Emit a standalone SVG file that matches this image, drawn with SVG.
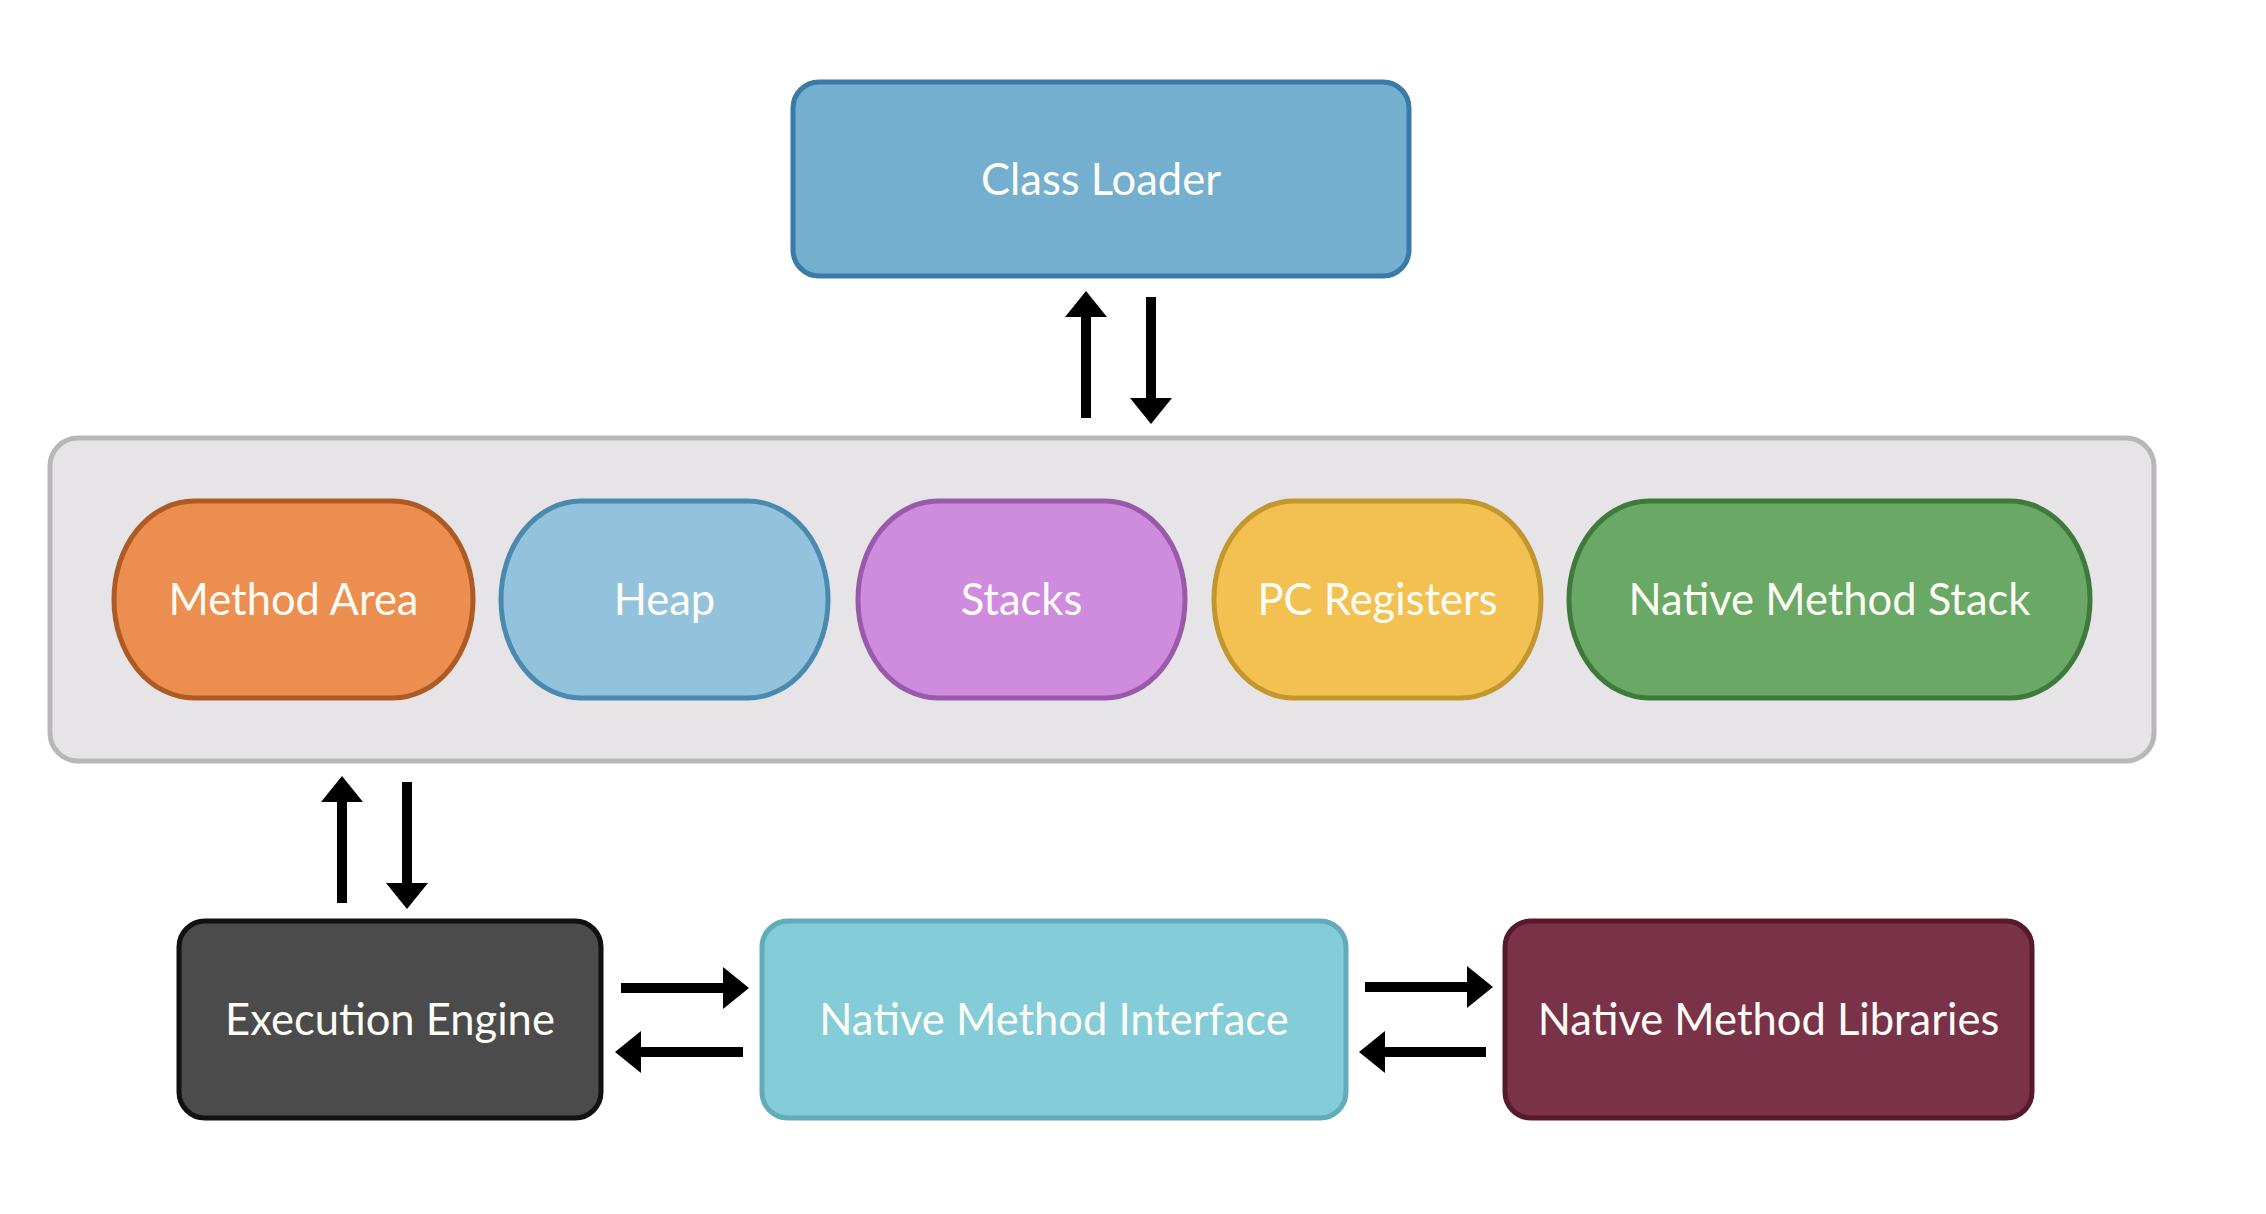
<svg xmlns="http://www.w3.org/2000/svg" width="2266" height="1214" viewBox="0 0 2266 1214">
  <style>
    .lbl { font-family: Lato, "Liberation Sans", sans-serif; font-size: 43.5px; fill: #fcfcf4; text-anchor: middle; }
    .box { stroke-width: 5; }
    .conn { stroke: #000; stroke-width: 10; fill: none; }
  </style>
  <defs>
    <marker id="ah" markerWidth="26" markerHeight="42" refX="0" refY="21" orient="auto" markerUnits="userSpaceOnUse" viewBox="0 0 26 42">
      <path d="M0,0 L26,21 L0,42 Z" fill="#000"/>
    </marker>
  </defs>
  <rect width="2266" height="1214" fill="#ffffff"/>

  <g id="class-loader">
    <rect class="box" x="793" y="82" width="616" height="194" rx="26" fill="#74afd0" stroke="#3a7aa6"/>
    <text class="lbl" x="1101" y="195">Class Loader</text>
  </g>

  <g id="runtime-data-area">
    <rect x="50" y="438" width="2104" height="323" rx="28" fill="#e6e4e7" stroke="#b7b7b9" stroke-width="5"/>
  </g>

  <g id="method-area">
    <rect class="box" x="114" y="501" width="359" height="197" rx="80" ry="98" fill="#ec8e50" stroke="#ae5a25"/>
    <text class="lbl" x="293.5" y="615">Method Area</text>
  </g>
  <g id="heap">
    <rect class="box" x="501" y="501" width="327" height="197" rx="80" ry="98" fill="#93c3dc" stroke="#4b8ab0"/>
    <text class="lbl" x="664.5" y="615">Heap</text>
  </g>
  <g id="stacks">
    <rect class="box" x="858" y="501" width="327" height="197" rx="80" ry="98" fill="#cf8cdf" stroke="#9a5aab"/>
    <text class="lbl" x="1021.5" y="615">Stacks</text>
  </g>
  <g id="pc-registers">
    <rect class="box" x="1214" y="501" width="327" height="197" rx="80" ry="98" fill="#f3c152" stroke="#c3972d"/>
    <text class="lbl" x="1377.5" y="615">PC Registers</text>
  </g>
  <g id="native-method-stack">
    <rect class="box" x="1569" y="501" width="521" height="197" rx="80" ry="98" fill="#69a965" stroke="#3f7a3c"/>
    <text class="lbl" x="1829.5" y="615">Native Method Stack</text>
  </g>

  <g id="execution-engine">
    <rect class="box" x="179" y="921" width="422" height="197" rx="26" fill="#4b4b4b" stroke="#111111"/>
    <text class="lbl" x="390" y="1035">Execution Engine</text>
  </g>
  <g id="native-method-interface">
    <rect class="box" x="762" y="921" width="584" height="197" rx="26" fill="#83ccd8" stroke="#62abb9"/>
    <text class="lbl" x="1054" y="1035">Native Method Interface</text>
  </g>
  <g id="native-method-libraries">
    <rect class="box" x="1505" y="921" width="527" height="197" rx="26" fill="#7a3248" stroke="#561a2c"/>
    <text class="lbl" x="1768.5" y="1035">Native Method Libraries</text>
  </g>

  <g id="connectors">
    <line class="conn" x1="1086" y1="418" x2="1086" y2="317" marker-end="url(#ah)"/>
    <line class="conn" x1="1151" y1="297" x2="1151" y2="398" marker-end="url(#ah)"/>
    <line class="conn" x1="342" y1="903" x2="342" y2="802" marker-end="url(#ah)"/>
    <line class="conn" x1="407" y1="782" x2="407" y2="883" marker-end="url(#ah)"/>
    <line class="conn" x1="621" y1="988" x2="723" y2="988" marker-end="url(#ah)"/>
    <line class="conn" x1="743" y1="1052" x2="641" y2="1052" marker-end="url(#ah)"/>
    <line class="conn" x1="1365" y1="987" x2="1467" y2="987" marker-end="url(#ah)"/>
    <line class="conn" x1="1486" y1="1052" x2="1385" y2="1052" marker-end="url(#ah)"/>
  </g>
</svg>
